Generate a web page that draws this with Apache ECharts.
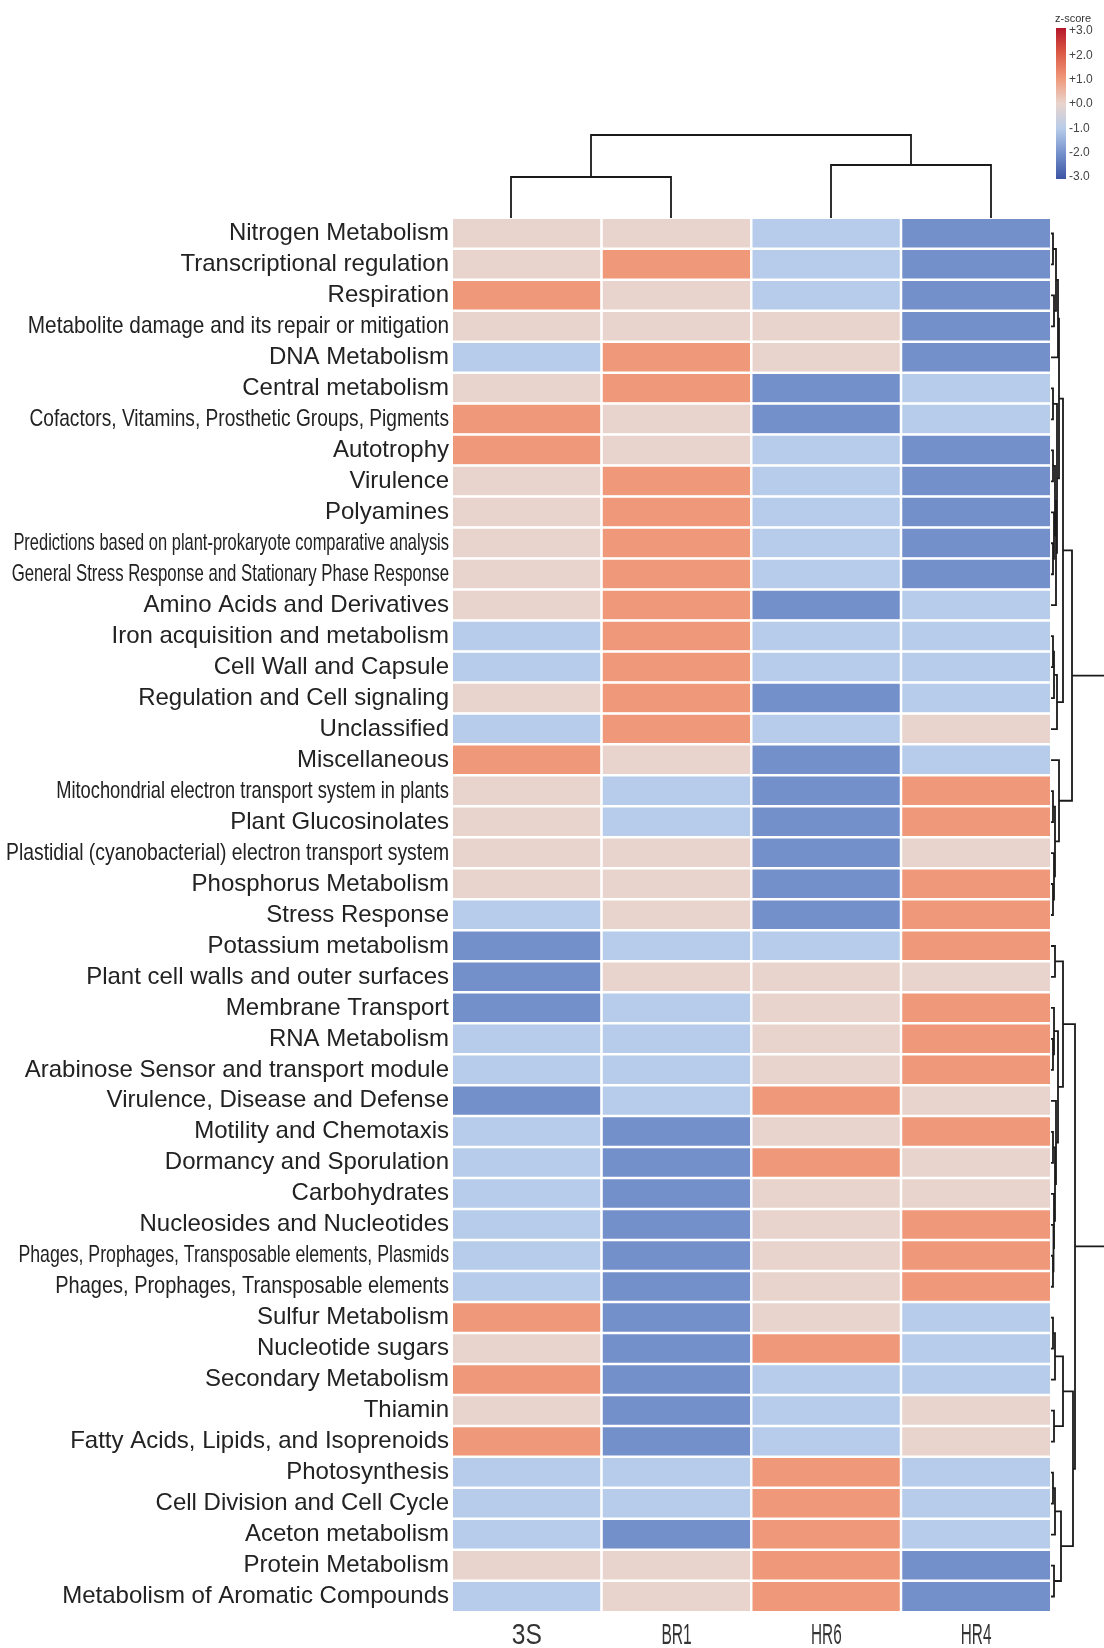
<!DOCTYPE html>
<html>
<head>
<meta charset="utf-8">
<script src="https://cdn.jsdelivr.net/npm/echarts@6/dist/echarts.min.js"></script>
<style>
  html, body { margin: 0; padding: 0; background: #fff; }
  #chart { width: 1104px; height: 1648px; }
</style>
</head>
<body>
<div id="chart"></div>
<script>
const samples = ["3S", "BR1", "HR6", "HR4"];

const pathways = [
  "Nitrogen Metabolism",
  "Transcriptional regulation",
  "Respiration",
  "Metabolite damage and its repair or mitigation",
  "DNA Metabolism",
  "Central metabolism",
  "Cofactors, Vitamins, Prosthetic Groups, Pigments",
  "Autotrophy",
  "Virulence",
  "Polyamines",
  "Predictions based on plant-prokaryote comparative analysis",
  "General Stress Response and Stationary Phase Response",
  "Amino Acids and Derivatives",
  "Iron acquisition and metabolism",
  "Cell Wall and Capsule",
  "Regulation and Cell signaling",
  "Unclassified",
  "Miscellaneous",
  "Mitochondrial electron transport system in plants",
  "Plant Glucosinolates",
  "Plastidial (cyanobacterial) electron transport system",
  "Phosphorus Metabolism",
  "Stress Response",
  "Potassium metabolism",
  "Plant cell walls and outer surfaces",
  "Membrane Transport",
  "RNA Metabolism",
  "Arabinose Sensor and transport module",
  "Virulence, Disease and Defense",
  "Motility and Chemotaxis",
  "Dormancy and Sporulation",
  "Carbohydrates",
  "Nucleosides and Nucleotides",
  "Phages, Prophages, Transposable elements, Plasmids",
  "Phages, Prophages, Transposable elements",
  "Sulfur Metabolism",
  "Nucleotide sugars",
  "Secondary Metabolism",
  "Thiamin",
  "Fatty Acids, Lipids, and Isoprenoids",
  "Photosynthesis",
  "Cell Division and Cell Cycle",
  "Aceton metabolism",
  "Protein Metabolism",
  "Metabolism of Aromatic Compounds"
];

// z-score per sample, same order as pathways
const z3S  = [0, 0, 1, 0, -1, 0, 1, 1, 0, 0, 0, 0, 0, -1, -1, 0, -1, 1, 0, 0, 0, 0, -1,
              -2, -2, -2, -1, -1, -2, -1, -1, -1, -1, -1, -1, 1, 0, 1, 0, 1, -1, -1, -1, 0, -1];
const zBR1 = [0, 1, 0, 0, 1, 1, 0, 0, 1, 1, 1, 1, 1, 1, 1, 1, 1, 0, -1, -1, 0, 0, 0,
              -1, 0, -1, -1, -1, -1, -2, -2, -2, -2, -2, -2, -2, -2, -2, -2, -2, -1, -1, -2, 0, 0];
const zHR6 = [-1, -1, -1, 0, 0, -2, -2, -1, -1, -1, -1, -1, -2, -1, -1, -2, -1, -2, -2, -2, -2, -2, -2,
              -1, 0, 0, 0, 0, 1, 0, 1, 0, 0, 0, 0, 0, 1, -1, -1, -1, 1, 1, 1, 1, 1];
const zHR4 = [-2, -2, -2, -2, -2, -1, -1, -2, -2, -2, -2, -2, -1, -1, -1, -1, 0, -1, 1, 1, 0, 1, 1,
              1, 0, 1, 1, 1, 0, 1, 0, 0, 1, 1, 1, -1, -1, -1, 0, 0, -1, -1, -1, -2, -2];

// column dendrogram: [childA, childB, height]; ids >= 4 are earlier merges
const colLinkage = [[0, 1, 41], [2, 3, 53], [4, 5, 83]];

// row dendrogram: [childA, childB, height]; ids >= 45 are earlier merges
const rowLinkage = [
  [0, 1, 2], [2, 3, 3], [45, 46, 5], [47, 4, 7],
  [5, 6, 2], [7, 8, 2], [10, 11, 2], [9, 51, 3], [50, 52, 4], [53, 12, 5], [49, 54, 6],
  [48, 55, 8],
  [13, 14, 2], [57, 15, 3], [58, 16, 6],
  [56, 59, 12],
  [18, 19, 2], [21, 22, 2], [20, 62, 3], [61, 63, 4], [17, 64, 8],
  [60, 65, 21],
  [23, 24, 4], [26, 27, 2], [25, 68, 3], [33, 34, 2], [32, 70, 2.5], [31, 71, 3],
  [29, 30, 2], [73, 72, 4], [28, 74, 5], [69, 75, 7], [67, 76, 12],
  [35, 36, 2], [78, 37, 4], [38, 39, 3], [79, 80, 12],
  [40, 41, 2], [82, 42, 4], [43, 44, 3], [83, 84, 10],
  [81, 85, 22], [77, 86, 24],
  [66, 87, 80]
];

const scaleColors = ["#3D55A5", "#7490CB", "#B7CCEA", "#E8D4CC", "#F0987A", "#DC5A45", "#B5172A"];

// the long row labels are squeezed sideways in the figure
const labelSqueeze = {
  "Metabolite damage and its repair or mitigation": 0.865,
  "Cofactors, Vitamins, Prosthetic Groups, Pigments": 0.797,
  "Predictions based on plant-prokaryote comparative analysis": 0.686,
  "General Stress Response and Stationary Phase Response": 0.699,
  "Mitochondrial electron transport system in plants": 0.763,
  "Plastidial (cyanobacterial) electron transport system": 0.806,
  "Phages, Prophages, Transposable elements, Plasmids": 0.738,
  "Phages, Prophages, Transposable elements": 0.833
};
const sampleSqueeze = [0.82, 0.52, 0.51, 0.51];

const zCols = [z3S, zBR1, zHR6, zHR4];
const heatData = [];
zCols.forEach((col, c) => {
  col.forEach((v, r) => heatData.push([c, r, v]));
});

// turn a linkage into U shaped links: [h0, p0, h, p0, h, p1, h1, p1]
function dendroLinks(linkage, n) {
  const pos = [], hgt = [];
  for (let i = 0; i < n; i++) { pos[i] = i; hgt[i] = 0; }
  const links = [];
  linkage.forEach(([a, b, h], k) => {
    links.push([hgt[a], pos[a], h, pos[a], h, pos[b], hgt[b], pos[b]]);
    pos[n + k] = (pos[a] + pos[b]) / 2;
    hgt[n + k] = h;
  });
  return links;
}

const rowLinks = dendroLinks(rowLinkage, pathways.length);
const colLinks = dendroLinks(colLinkage, samples.length);

function drawLink(swap) {
  return function (params, api) {
    const pts = [];
    for (let i = 0; i < 4; i++) {
      const h = api.value(2 * i), p = api.value(2 * i + 1);
      pts.push(api.coord(swap ? [p, h] : [h, p]));
    }
    return {
      type: "polyline",
      shape: { points: pts },
      style: { stroke: "#1a1a1a", lineWidth: 1.8, fill: null }
    };
  };
}

const labelFont = "'Liberation Sans', Arial, sans-serif";

// row names, right aligned against the heatmap, squeezed where needed
function drawRowLabel(params, api) {
  const r = api.value(1);
  const name = pathways[r];
  const p = api.coord([0, r]);
  const cell = api.size([1, 1]);
  return {
    type: "text",
    x: p[0] - cell[0] / 2 - 3,
    y: p[1],
    scaleX: labelSqueeze[name] || 1,
    style: {
      text: name,
      fontSize: 24,
      fontFamily: labelFont,
      fill: "#222",
      align: "right",
      verticalAlign: "middle"
    }
  };
}

// sample names under the columns
function drawColLabel(params, api) {
  const c = api.value(0);
  const p = api.coord([c, pathways.length - 1]);
  const cell = api.size([1, 1]);
  return {
    type: "text",
    x: p[0],
    y: p[1] + cell[1] / 2 + 24,
    scaleX: sampleSqueeze[c],
    style: {
      text: samples[c],
      fontSize: 30,
      fontFamily: labelFont,
      fill: "#333",
      align: "center",
      verticalAlign: "middle"
    }
  };
}

const chart = echarts.init(document.getElementById("chart"));

const option = {
  animation: false,
  backgroundColor: "#fff",
  title: {
    text: "z-score",
    left: 1055,
    top: 13,
    padding: 0,
    textStyle: { fontSize: 11, fontWeight: "normal", color: "#333", fontFamily: labelFont }
  },
  graphic: [{
    type: "rect",
    left: 1056,
    top: 28,
    shape: { width: 10, height: 151 },
    style: {
      fill: new echarts.graphic.LinearGradient(0, 0, 0, 1,
        scaleColors.slice().reverse().map((c, i) => ({ offset: i / 6, color: c })))
    }
  }],
  visualMap: {
    show: false,
    seriesIndex: 0,
    dimension: 2,
    min: -3,
    max: 3,
    inRange: { color: scaleColors }
  },
  grid: [
    { left: 452, top: 218, width: 599, height: 1394, outerBoundsMode: "none" },
    { left: 431, top: 118, width: 640, height: 100, outerBoundsMode: "none" },
    { left: 1051, top: 218, width: 53, height: 1394, outerBoundsMode: "none" },
    { left: 1056, top: 31, width: 10, height: 146, outerBoundsMode: "none" }
  ],
  xAxis: [
    {
      type: "category",
      gridIndex: 0,
      data: samples,
      axisLine: { show: false },
      axisTick: { show: false },
      axisLabel: { show: false }
    },
    { type: "value", gridIndex: 1, min: -0.5, max: 3.5, show: false },
    { type: "value", gridIndex: 2, min: 0, max: 53, show: false },
    { type: "value", gridIndex: 3, show: false }
  ],
  yAxis: [
    {
      type: "category",
      gridIndex: 0,
      data: pathways,
      inverse: true,
      axisLine: { show: false },
      axisTick: { show: false },
      axisLabel: { show: false }
    },
    { type: "value", gridIndex: 1, min: 0, max: 100, show: false },
    { type: "value", gridIndex: 2, min: -0.5, max: 44.5, inverse: true, show: false },
    {
      type: "value",
      gridIndex: 3,
      min: -3,
      max: 3,
      interval: 1,
      position: "right",
      axisLine: { show: false },
      axisTick: { show: false },
      splitLine: { show: false },
      axisLabel: {
        margin: 3,
        fontSize: 12,
        color: "#444",
        fontFamily: labelFont,
        formatter: v => (v >= 0 ? "+" : "") + v.toFixed(1)
      }
    }
  ],
  series: [
    {
      type: "heatmap",
      xAxisIndex: 0,
      yAxisIndex: 0,
      data: heatData,
      itemStyle: { borderColor: "#fff", borderWidth: 2.5 },
      emphasis: { disabled: true }
    },
    {
      type: "custom",
      xAxisIndex: 1,
      yAxisIndex: 1,
      data: colLinks,
      renderItem: drawLink(true),
      silent: true
    },
    {
      type: "custom",
      xAxisIndex: 2,
      yAxisIndex: 2,
      data: rowLinks,
      renderItem: drawLink(false),
      silent: true
    },
    {
      type: "custom",
      xAxisIndex: 0,
      yAxisIndex: 0,
      data: pathways.map((p, r) => [0, r]),
      renderItem: drawRowLabel,
      silent: true
    },
    {
      type: "custom",
      xAxisIndex: 0,
      yAxisIndex: 0,
      data: samples.map((s, c) => [c, 0]),
      renderItem: drawColLabel,
      silent: true
    }
  ]
};

chart.setOption(option);
</script>
</body>
</html>
